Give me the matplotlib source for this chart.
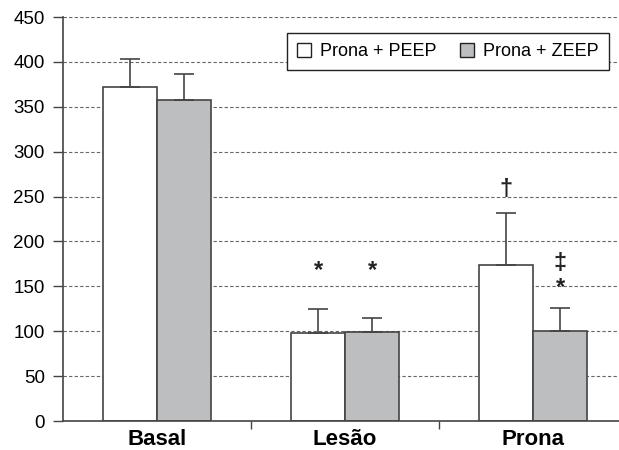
import matplotlib.pyplot as plt
from matplotlib.patches import Patch
import numpy as np

plt.rcParams["font.family"] = ["Liberation Sans", "DejaVu Sans"]

# data
groups = ["Basal", "Lesão", "Prona"]
peep = [372, 98, 174]
peep_err = [31, 27, 58]
zeep = [358, 99, 100]
zeep_err = [28, 16, 26]
series_names = ["Prona + PEEP", "Prona + ZEEP"]
# significance marks: (group index, series offset sign, y, text)
marks = [(1, -1, 168, "*"), (1, 1, 168, "*"),
         (2, -1, 258, "\u2020"), (2, 1, 175, "\u2021"), (2, 1, 149, "*")]

fig = plt.figure(figsize=(6.19, 4.5), dpi=100)
ax = fig.add_axes([63/619, 29/450, 556/619, 404/450])

x = np.arange(len(groups))
w = 0.287
edge = "#444444"
grey = "#bdbebf"

ax.set_axisbelow(True)
ax.yaxis.grid(True, linestyle=(0, (3, 2)), color="#666666", linewidth=0.8)

ax.bar(x - w/2, peep, w, color="white", edgecolor=edge, linewidth=1.2)
ax.bar(x + w/2, zeep, w, color=grey, edgecolor=edge, linewidth=1.2)
ax.errorbar(x - w/2, peep, yerr=[np.zeros(3), peep_err], fmt="none",
            ecolor=edge, elinewidth=1.2, capsize=7, capthick=1.2)
ax.errorbar(x + w/2, zeep, yerr=[np.zeros(3), zeep_err], fmt="none",
            ecolor=edge, elinewidth=1.2, capsize=7, capthick=1.2)

for gi, s, yv, t in marks:
    ax.text(gi + s*w/2, yv, t, ha="center", va="center", fontsize=17,
            fontweight="bold", color="#222222")

ax.set_xlim(-0.5, 2.457)
ax.set_ylim(0, 450)
ax.set_yticks(np.arange(0, 451, 50))
ax.tick_params(axis="y", labelsize=13.5, length=7, width=1, color=edge, pad=6)
ax.set_xticks(x)
ax.set_xticklabels(groups, fontsize=16, fontweight="bold")
ax.tick_params(axis="x", length=0, pad=6)
ax.set_xticks([0.5, 1.5], minor=True)
ax.tick_params(axis="x", which="minor", length=6, width=1, color=edge)

for side in ["top", "right"]:
    ax.spines[side].set_visible(False)
for side in ["left", "bottom"]:
    ax.spines[side].set_color(edge)
    ax.spines[side].set_linewidth(1.2)

handles = [Patch(facecolor="white", edgecolor="#222222"),
           Patch(facecolor=grey, edgecolor="#222222")]
leg = ax.legend(handles, series_names, ncol=2, loc="upper right",
                bbox_to_anchor=(0.982, 0.960), borderaxespad=0, fontsize=13,
                fancybox=False, framealpha=1, edgecolor="#222222",
                handlelength=0.8, handleheight=0.8, handletextpad=0.5,
                columnspacing=1.3, borderpad=0.55)
leg.get_frame().set_linewidth(1.0)

fig.savefig("out.png", dpi=100)
